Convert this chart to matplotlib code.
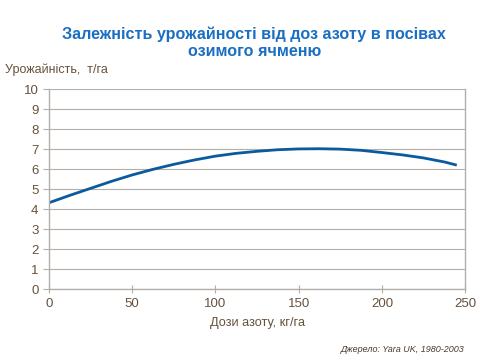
import matplotlib
matplotlib.use("Agg")
import matplotlib.pyplot as plt

nitrogen = [0, 12.5, 25, 37.5, 50, 62.5, 75, 87.5, 100, 112.5, 125, 137.5, 150, 162.5, 175, 187.5, 200, 212.5, 225, 237.5, 245]
yield_t = [4.33, 4.70, 5.05, 5.40, 5.72, 6.00, 6.25, 6.47, 6.66, 6.80, 6.90, 6.98, 7.02, 7.03, 7.01, 6.95, 6.84, 6.72, 6.57, 6.37, 6.21]
xticks = [0, 50, 100, 150, 200, 250]
yticks = list(range(0, 11))

plt.rcParams['font.family'] = ['Liberation Sans', 'DejaVu Sans']
fig = plt.figure(figsize=(4.8, 3.6), dpi=100)
ax = fig.add_axes([0.102, 0.196, 0.867, 0.556])
tick_col = '#66523c'
grid_col = '#b3aea8'
ax.plot(nitrogen, yield_t, color='#0b5a9e', lw=2.0, solid_capstyle='butt')
ax.set_xlim(0, 250)
ax.set_ylim(0, 10)
ax.set_xticks(xticks)
ax.set_yticks(yticks)
ax.yaxis.grid(True, color=grid_col, lw=0.8)
ax.set_axisbelow(True)
for s in ['left', 'bottom', 'right']:
    ax.spines[s].set_color(grid_col)
    ax.spines[s].set_linewidth(1.0)
ax.spines['top'].set_visible(False)
ax.tick_params(axis='both', colors=grid_col, labelcolor=tick_col, labelsize=9.5, length=4, width=0.8)
ax.tick_params(axis='y', direction='out')
ax.tick_params(axis='x', direction='inout', length=6)
ax.set_xlabel('Дози азоту, кг/га', color=tick_col, fontsize=9.2, labelpad=5)
fig.text(0.011, 0.805, 'Урожайність,  т/га', color=tick_col, fontsize=9.0, ha='left', va='center')
fig.text(0.53, 0.882, 'Залежність урожайності від доз азоту в посівах\nозимого ячменю',
         color='#1b6fc2', fontsize=11.6, fontweight='bold', ha='center', va='center', linespacing=1.2)
fig.text(0.968, 0.028, 'Джерело: Yara UK, 1980-2003', color='#4a3c30', fontsize=6.5,
         fontstyle='italic', ha='right', va='center')
fig.savefig('out.png', dpi=100)
